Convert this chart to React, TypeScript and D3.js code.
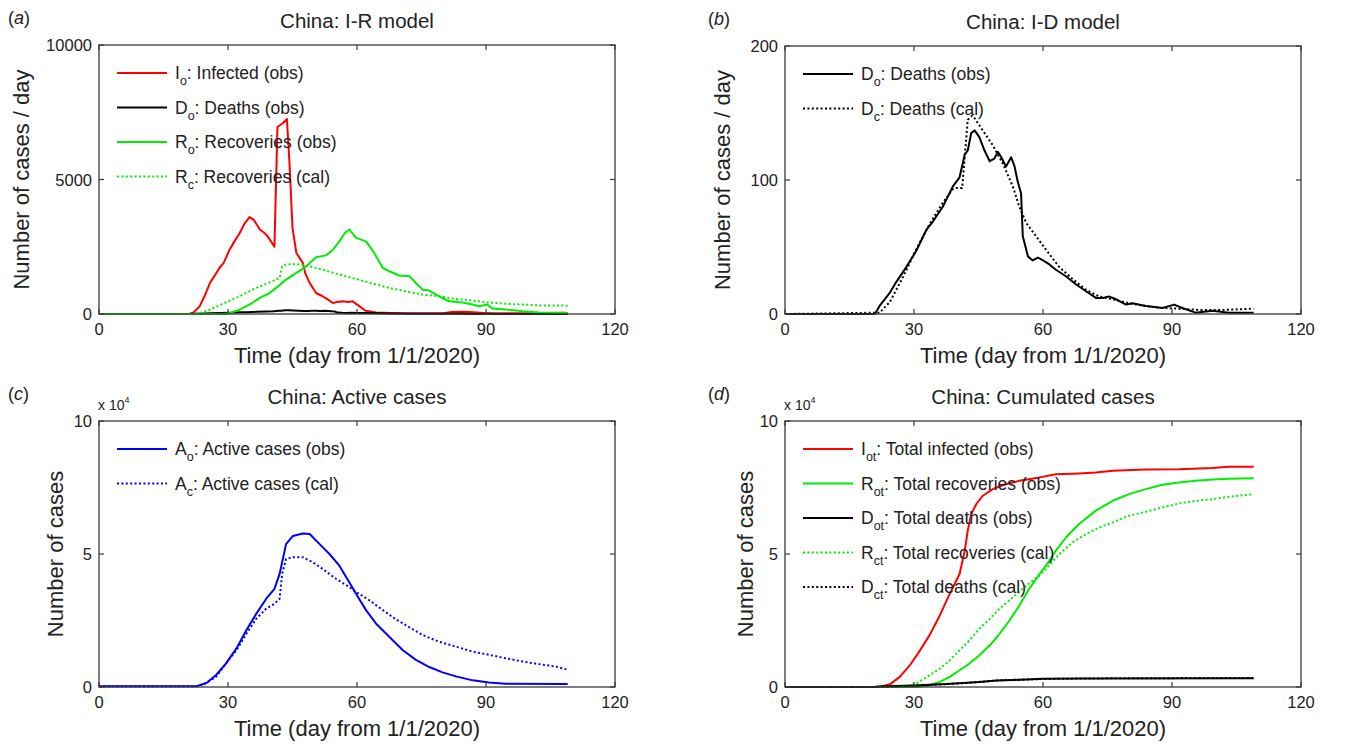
import React from "react";
import * as d3 from "d3";

type Pt = [number, number];

// ---------- tick values ----------
const xTickValues = [0, 30, 60, 90, 120];
const yTicksA = [0, 5000, 10000];
const yTicksB = [0, 100, 200];
const yTicksCD = [0, 5, 10];

// ---------- (a) daily infected / recoveries ----------
const infectedObs: Pt[] = [
  [0, 0], [21, 0], [22, 60], [23.4, 285], [24.5, 650], [25.8, 1150], [27, 1450], [28, 1710], [29, 1900],
  [30.4, 2400], [31.5, 2700], [32.7, 3000], [33.8, 3350], [35, 3600], [36, 3500], [37.4, 3140], [38.2, 3050],
  [38.9, 2950], [40, 2700], [40.8, 2500], [41.5, 6950], [42.8, 7100], [43.7, 7250], [44.3, 5600], [45, 3200],
  [45.9, 2270], [47.4, 1900], [48, 1500], [49, 1150], [50.5, 780], [52, 660], [53, 560], [54.4, 410],
  [55.5, 450], [56.7, 470], [58, 450], [59, 470], [60.6, 285], [62, 120], [64.4, 60], [66, 50], [70, 30],
  [75, 25], [80, 30], [82, 70], [85, 80], [88, 60], [90, 30], [95, 25], [100, 30], [105, 40], [108, 50], [109, 40],
];
const recoveriesObs: Pt[] = [
  [0, 0], [29, 0], [30.5, 40], [32.7, 160], [35, 350], [37.4, 600], [39.7, 780], [41.2, 970], [43.5, 1280],
  [45.9, 1530], [48.2, 1770], [50.5, 2110], [52.8, 2180], [54.4, 2390], [55.9, 2700], [57.1, 2990], [58.2, 3140],
  [59.8, 2830], [62.1, 2700], [64, 2270], [66, 1710], [67.5, 1590], [69.8, 1430], [72.2, 1400], [73.7, 1150],
  [75.3, 900], [76.8, 870], [79.1, 660], [81.4, 470], [84.5, 430], [86.9, 350], [88.4, 285], [90.3, 350],
  [91.5, 200], [95.4, 160], [98.5, 100], [102.3, 60], [109, 40],
];
const recoveriesCal: Pt[] = [
  [0, 0], [22, 0], [23.4, 30], [25.8, 160], [28.8, 380], [32.7, 660], [36.6, 970], [40.4, 1220], [42, 1340],
  [42.6, 1770], [43.5, 1840], [45.9, 1860], [48.2, 1800], [52, 1650], [56, 1460], [59.8, 1300], [63.6, 1130],
  [67.5, 970], [71.4, 840], [75.3, 720], [79, 660], [83, 560], [86.9, 500], [90.7, 430], [94.6, 380],
  [98.5, 350], [102.3, 320], [109, 310],
];

// ---------- (b) daily deaths ----------
const deathsObs: Pt[] = [
  [0, 0], [20.9, 0], [22, 6], [24.4, 16], [25.9, 24], [28.2, 35], [30.5, 47], [32.9, 63], [34.4, 69], [36.7, 80],
  [39, 95], [40.6, 102], [41.8, 119], [42.5, 122], [43.3, 135], [44.1, 137], [45.2, 132], [46.4, 122],
  [47.6, 114], [48.7, 116], [49.5, 121], [50.3, 117], [51.4, 110], [52.6, 117], [53.4, 110], [54.1, 99],
  [54.9, 90], [55.3, 58], [55.7, 53], [56.5, 43], [57.6, 40], [58.8, 42], [60, 40], [61.5, 37], [63, 33],
  [65.4, 28], [67.7, 22], [70, 17], [72.3, 12], [73.9, 12], [75.4, 13], [77, 11], [79.3, 7], [80.8, 8],
  [83.9, 6], [87.8, 4.5], [90.5, 7], [92.4, 4.5], [95.5, 1], [99.4, 2.5], [103.2, 1], [109, 1],
];
const deathsCal: Pt[] = [
  [0, 0], [22, 1], [24.4, 9], [27.5, 28], [30.5, 48], [33.6, 67], [36.7, 83], [39, 93], [39.8, 94], [41.2, 94],
  [41.8, 117], [42.5, 145], [43.5, 148], [44.1, 146], [46, 137], [48.3, 126], [50.7, 112], [53, 95],
  [54.5, 80], [56.1, 68], [58.4, 58], [60.7, 48], [63.8, 35], [66.9, 26], [70, 18], [73.1, 13], [76.2, 11],
  [80, 8], [83.9, 6], [87.8, 4.5], [91.6, 4], [96.3, 3], [101.7, 3], [109, 4],
];

// ---------- (c) active cases (x 10^4) ----------
const activeObs: Pt[] = [
  [0, 0.03], [22.7, 0.03], [25, 0.15], [27.3, 0.46], [29.6, 0.9], [32, 1.46], [34.3, 2.14], [36.6, 2.76],
  [38.9, 3.32], [40.8, 3.69], [42, 4.25], [43.5, 5.37], [45.1, 5.68], [47.4, 5.77], [49, 5.75], [51.3, 5.37],
  [53.6, 5.0], [55.9, 4.56], [58.2, 3.94], [59.8, 3.5], [62.1, 2.89], [64.4, 2.39], [67.5, 1.89], [70.6, 1.39],
  [73.7, 1.02], [76.8, 0.75], [79.9, 0.55], [83, 0.4], [86.9, 0.25], [90.7, 0.17], [94.6, 0.12], [109, 0.11],
];
const activeCal: Pt[] = [
  [0, 0.03], [22.7, 0.03], [25, 0.15], [27.3, 0.4], [29.6, 0.9], [32, 1.39], [34.3, 2.01], [36.6, 2.57],
  [38.9, 2.95], [40.8, 3.13], [42, 3.32], [42.6, 4.25], [43.5, 4.81], [45.1, 4.88], [47.4, 4.88], [49.7, 4.69],
  [52, 4.44], [55.1, 4.07], [58.2, 3.76], [59.8, 3.57], [62.9, 3.26], [66, 2.89], [69.1, 2.54], [72.2, 2.24],
  [75.3, 1.95], [79.1, 1.7], [83, 1.52], [86.9, 1.33], [90.7, 1.21], [94.6, 1.08], [98.5, 0.96], [102.3, 0.86],
  [106.2, 0.77], [109, 0.65],
];

// ---------- (d) cumulated cases (x 10^4) ----------
const totalInfectedObs: Pt[] = [
  [0, 0], [22, 0], [24.4, 0.1], [26.7, 0.38], [29, 0.81], [31.3, 1.35], [33.6, 1.94], [36, 2.69], [38.3, 3.5],
  [40.6, 4.25], [41.8, 5.12], [42.5, 5.88], [43.3, 6.5], [44.5, 6.88], [46, 7.19], [48.3, 7.44], [51.4, 7.63],
  [54.5, 7.75], [59.2, 7.88], [63, 8.0], [68.4, 8.03], [72.3, 8.06], [76.2, 8.13], [83.9, 8.18], [91.6, 8.19],
  [99.4, 8.23], [103.2, 8.28], [109, 8.28],
];
const totalRecoveriesObs: Pt[] = [
  [0, 0], [30, 0], [33.6, 0.06], [36, 0.19], [38.3, 0.38], [40.6, 0.63], [42.9, 0.88], [45.2, 1.19],
  [47.6, 1.56], [49.9, 2.0], [52.2, 2.5], [54.5, 3.06], [56.8, 3.69], [59.2, 4.25], [60.7, 4.56], [63, 5.13],
  [65.4, 5.63], [68.4, 6.13], [72.3, 6.63], [76.2, 7.0], [80, 7.25], [83.9, 7.44], [87.8, 7.6], [91.6, 7.69],
  [95.5, 7.75], [99.4, 7.8], [103.2, 7.83], [109, 7.85],
];
const totalDeathsObs: Pt[] = [
  [0, 0], [21, 0], [21.3, 0.02], [29.8, 0.06], [37.5, 0.11], [41.4, 0.15], [45.2, 0.19], [49.1, 0.24],
  [53, 0.26], [60, 0.31], [70, 0.32], [109, 0.33],
];
const totalRecoveriesCal: Pt[] = [
  [0, 0], [27, 0], [28.2, 0.03], [30.5, 0.13], [33.6, 0.44], [36, 0.69], [38.3, 1.0], [40.6, 1.38], [42.9, 1.75],
  [45.2, 2.19], [47.6, 2.56], [49.9, 2.94], [53, 3.38], [56.1, 3.81], [59.2, 4.19], [60.7, 4.44], [63.8, 5.0],
  [66.9, 5.44], [70, 5.75], [73.1, 6.0], [76.2, 6.19], [80, 6.44], [83.9, 6.59], [87.8, 6.75], [91.6, 6.9],
  [95.5, 7.0], [99.4, 7.06], [103.2, 7.15], [109, 7.25],
];
const totalDeathsCal: Pt[] = [
  [0, 0], [22, 0], [30, 0.05], [37, 0.1], [42, 0.15], [46, 0.2], [50, 0.25], [55, 0.28], [60, 0.3],
  [70, 0.32], [80, 0.33], [109, 0.34],
];

const FONT = "'Liberation Sans', Arial, Helvetica, sans-serif";
const RED = "#ff0000";
const GREEN = "#00ee00";
const BLUE = "#0000ff";
const BLACK = "#000000";

interface SeriesDef {
  data: Pt[];
  color: string;
  dotted?: boolean;
  main: string;
  sub: string;
  rest: string;
}

interface PanelProps {
  left: number;
  right: number;
  top: number;
  bottom: number;
  yMax: number;
  yTicks: number[];
  title: string;
  tag: string;
  tagX: number;
  yLabel: string;
  yLabelX: number;
  multiplier?: boolean;
  series: SeriesDef[];
}

function Panel(p: PanelProps) {
  const x = d3.scaleLinear().domain([0, 120]).range([p.left, p.right]);
  const y = d3.scaleLinear().domain([0, p.yMax]).range([p.bottom, p.top]);
  const line = d3
    .line<Pt>()
    .x((d) => x(d[0]))
    .y((d) => y(d[1]));
  const cx = (p.left + p.right) / 2;
  const cy = (p.top + p.bottom) / 2;
  const tickLen = 5;
  const axisColor = "#3a3a3a";
  const textColor = "#222222";
  const legendX0 = p.left + 18;
  const legendX1 = p.left + 68;
  const legendTextX = p.left + 76;
  const legendY0 = p.top + 28;
  const legendDy = 34.5;

  return (
    <g>
      {/* curves */}
      <g>
        {p.series.map((s, i) => (
          <path
            key={i}
            d={line(s.data) ?? ""}
            fill="none"
            stroke={s.color}
            strokeWidth={2}
            strokeDasharray={s.dotted ? "2,2.4" : undefined}
            strokeLinejoin="round"
          />
        ))}
      </g>
      {/* axes box */}
      <rect
        x={p.left}
        y={p.top}
        width={p.right - p.left}
        height={p.bottom - p.top}
        fill="none"
        stroke={axisColor}
        strokeWidth={1.3}
      />
      {/* x ticks */}
      {xTickValues.map((t) => (
        <g key={"x" + t}>
          <line x1={x(t)} x2={x(t)} y1={p.bottom} y2={p.bottom - tickLen} stroke={axisColor} strokeWidth={1.2} />
          <line x1={x(t)} x2={x(t)} y1={p.top} y2={p.top + tickLen} stroke={axisColor} strokeWidth={1.2} />
          <text
            x={x(t)}
            y={p.bottom + 15}
            textAnchor="middle"
            dominantBaseline="central"
            fontSize={16.5}
            fill={textColor}
            fontFamily={FONT}
          >
            {t}
          </text>
        </g>
      ))}
      {/* y ticks */}
      {p.yTicks.map((t) => (
        <g key={"y" + t}>
          <line x1={p.left} x2={p.left + tickLen} y1={y(t)} y2={y(t)} stroke={axisColor} strokeWidth={1.2} />
          <line x1={p.right} x2={p.right - tickLen} y1={y(t)} y2={y(t)} stroke={axisColor} strokeWidth={1.2} />
          <text
            x={p.left - 7}
            y={y(t)}
            textAnchor="end"
            dominantBaseline="central"
            fontSize={16.5}
            fill={textColor}
            fontFamily={FONT}
          >
            {t}
          </text>
        </g>
      ))}
      {p.multiplier && (
        <text x={p.left - 1} y={p.top - 11} fontSize={14} fill={textColor} fontFamily={FONT}>
          x 10
          <tspan fontSize={9} dy={-7}>
            4
          </tspan>
        </text>
      )}
      {/* title */}
      <text x={cx} y={p.top - 25} textAnchor="middle" dominantBaseline="central" fontSize={20.5} fill={textColor} fontFamily={FONT}>
        {p.title}
      </text>
      {/* panel tag */}
      <text x={p.tagX} y={p.top - 27} dominantBaseline="central" fontSize={18} fill={textColor} fontFamily={FONT}>
        (<tspan fontStyle="italic">{p.tag}</tspan>)
      </text>
      {/* x label */}
      <text x={cx} y={p.bottom + 41} textAnchor="middle" dominantBaseline="central" fontSize={22} fill={textColor} fontFamily={FONT}>
        Time (day from 1/1/2020)
      </text>
      {/* y label */}
      <text
        transform={`translate(${p.yLabelX},${cy}) rotate(-90)`}
        textAnchor="middle"
        dominantBaseline="central"
        fontSize={22}
        fill={textColor}
        fontFamily={FONT}
      >
        {p.yLabel}
      </text>
      {/* legend */}
      {p.series.map((s, row) => {
        const ly = legendY0 + row * legendDy;
        return (
          <g key={"lg" + row}>
            <line
              x1={legendX0}
              x2={legendX1}
              y1={ly}
              y2={ly}
              stroke={s.color}
              strokeWidth={2}
              strokeDasharray={s.dotted ? "2,2.4" : undefined}
            />
            <text x={legendTextX} y={ly} dominantBaseline="central" fontSize={17.5} fill={textColor} fontFamily={FONT}>
              {s.main}
              <tspan fontSize={12.5} dy={8}>
                {s.sub}
              </tspan>
              <tspan dy={-8}>{s.rest}</tspan>
            </text>
          </g>
        );
      })}
    </g>
  );
}

export default function App() {
  const seriesA: SeriesDef[] = [
    { data: infectedObs, color: RED, main: "I", sub: "o", rest: ": Infected (obs)" },
    { data: deathsObs, color: BLACK, main: "D", sub: "o", rest: ": Deaths (obs)" },
    { data: recoveriesObs, color: GREEN, main: "R", sub: "o", rest: ": Recoveries (obs)" },
    { data: recoveriesCal, color: GREEN, dotted: true, main: "R", sub: "c", rest: ": Recoveries (cal)" },
  ];
  const seriesB: SeriesDef[] = [
    { data: deathsObs, color: BLACK, main: "D", sub: "o", rest: ": Deaths (obs)" },
    { data: deathsCal, color: BLACK, dotted: true, main: "D", sub: "c", rest: ": Deaths (cal)" },
  ];
  const seriesC: SeriesDef[] = [
    { data: activeObs, color: BLUE, main: "A", sub: "o", rest: ": Active cases (obs)" },
    { data: activeCal, color: BLUE, dotted: true, main: "A", sub: "c", rest: ": Active cases (cal)" },
  ];
  const seriesD: SeriesDef[] = [
    { data: totalInfectedObs, color: RED, main: "I", sub: "ot", rest: ": Total infected (obs)" },
    { data: totalRecoveriesObs, color: GREEN, main: "R", sub: "ot", rest: ": Total recoveries (obs)" },
    { data: totalDeathsObs, color: BLACK, main: "D", sub: "ot", rest: ": Total deaths (obs)" },
    { data: totalRecoveriesCal, color: GREEN, dotted: true, main: "R", sub: "ct", rest: ": Total recoveries (cal)" },
    { data: totalDeathsCal, color: BLACK, dotted: true, main: "D", sub: "ct", rest: ": Total deaths (cal)" },
  ];

  return (
    <div style={{ position: "absolute", left: 0, top: 0 }}>
      <svg width={1367} height={746} style={{ display: "block", background: "#ffffff" }}>
        <Panel
          left={99} right={615} top={45} bottom={314} yMax={10000} yTicks={yTicksA}
          title="China: I-R model" tag="a" tagX={8} yLabel="Number of cases / day" yLabelX={21}
          series={seriesA}
        />
        <Panel
          left={785} right={1301} top={46} bottom={314} yMax={200} yTicks={yTicksB}
          title="China: I-D model" tag="b" tagX={708} yLabel="Number of cases / day" yLabelX={722}
          series={seriesB}
        />
        <Panel
          left={99} right={615} top={421} bottom={687} yMax={10} yTicks={yTicksCD}
          title="China: Active cases" tag="c" tagX={8} yLabel="Number of cases" yLabelX={55}
          multiplier series={seriesC}
        />
        <Panel
          left={785} right={1301} top={421} bottom={687} yMax={10} yTicks={yTicksCD}
          title="China: Cumulated cases" tag="d" tagX={708} yLabel="Number of cases" yLabelX={745}
          multiplier series={seriesD}
        />
      </svg>
    </div>
  );
}
